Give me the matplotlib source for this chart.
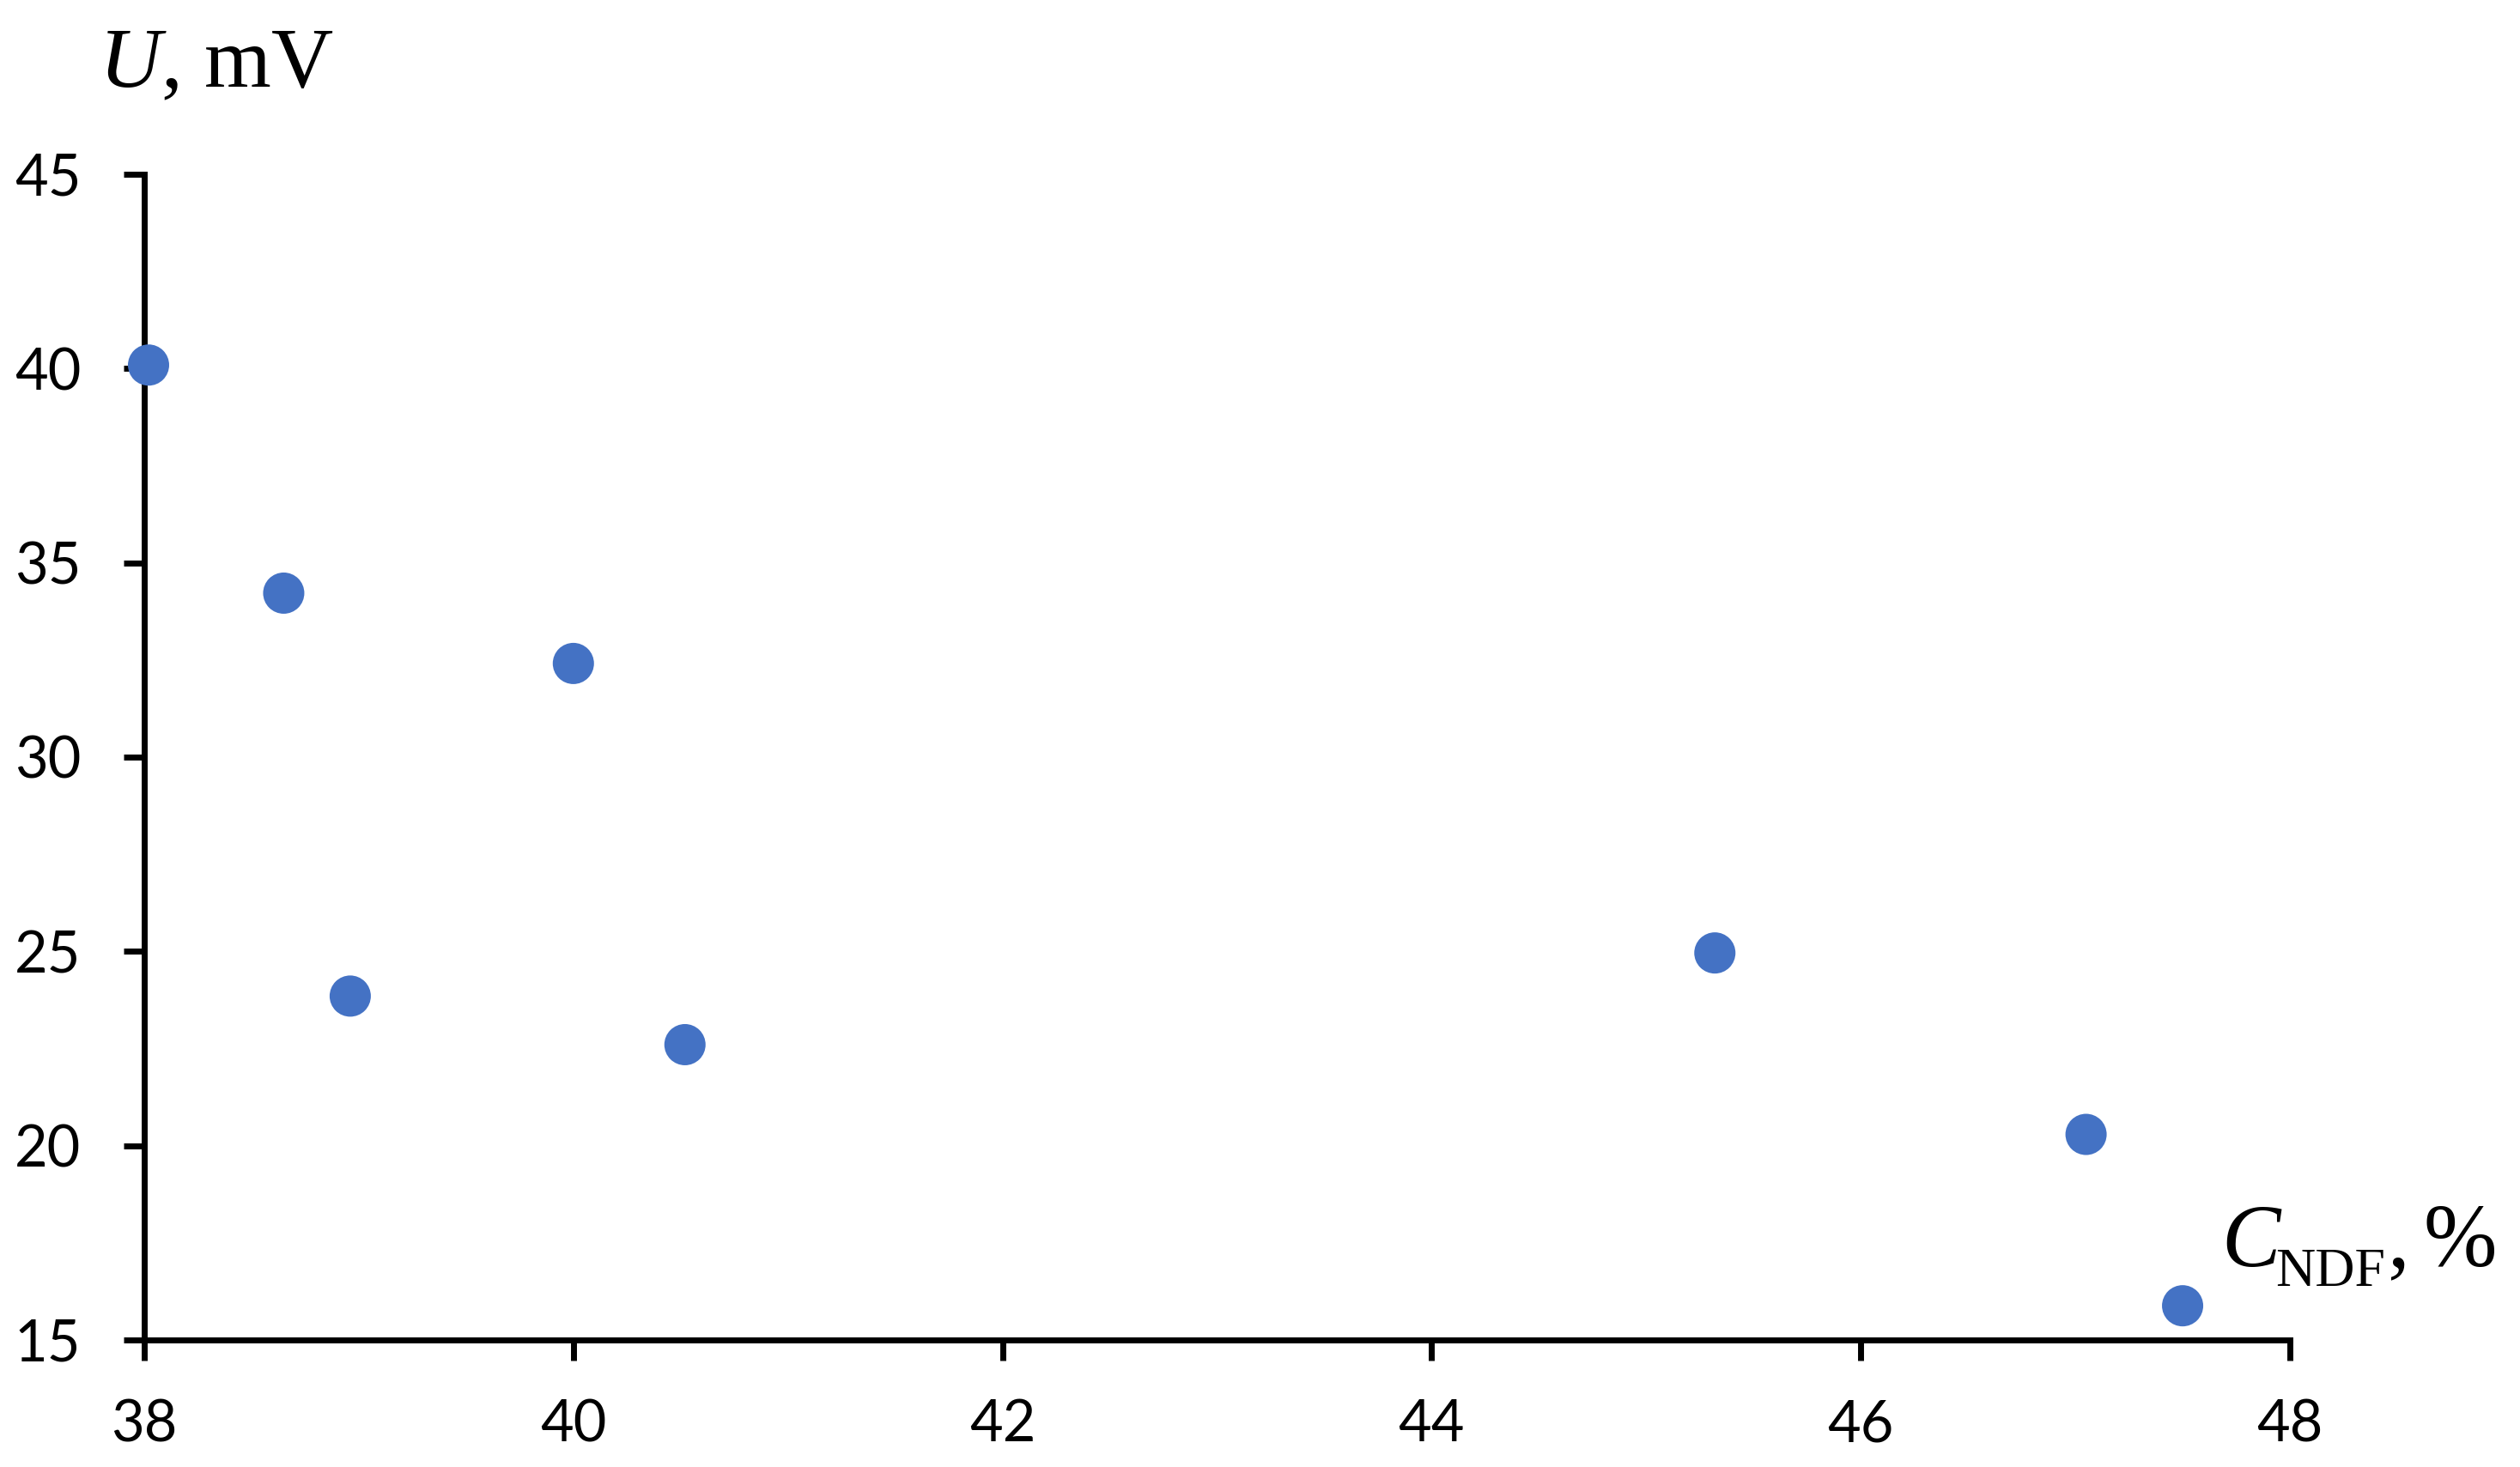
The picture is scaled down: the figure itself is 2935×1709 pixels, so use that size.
import matplotlib
matplotlib.use('Agg')
import matplotlib.pyplot as plt

# fibre content vs potential
c_ndf = [38.02, 38.65, 38.96, 40.00, 40.52, 45.32, 47.05, 47.50]
u_mv = [40.09, 34.22, 23.85, 32.41, 22.60, 24.96, 20.29, 15.88]

x_ticks = [38, 40, 42, 44, 46, 48]
y_ticks = [15, 20, 25, 30, 35, 40, 45]

plt.rcParams['mathtext.fontset'] = 'custom'
plt.rcParams['mathtext.rm'] = 'Liberation Serif'
plt.rcParams['mathtext.it'] = 'Liberation Serif:italic'

W, H = 2935, 1709
fig = plt.figure(figsize=(W / 100, H / 100), dpi=100)
ax = fig.add_axes([168 / W, 1 - 1561 / H, (2667 - 168) / W, (1561 - 203) / H])

ax.scatter(c_ndf, u_mv, s=1195, color='#4472C4', edgecolors='none', clip_on=False, zorder=3)

ax.set_xlim(38, 48)
ax.set_ylim(15, 45)
ax.set_xticks(x_ticks)
ax.set_yticks(y_ticks)

for side in ['top', 'right']:
    ax.spines[side].set_visible(False)
for side in ['left', 'bottom']:
    ax.spines[side].set_linewidth(5)

ax.tick_params(axis='both', direction='out', length=17, width=5, labelsize=48)
ax.tick_params(axis='x', pad=32)
ax.tick_params(axis='y', pad=36)
for lbl in ax.get_xticklabels() + ax.get_yticklabels():
    lbl.set_family(['Lato', 'DejaVu Sans'])

serif = 'Liberation Serif'
fig.text(115 / W, 1 - 101 / H, r'$U$, mV', fontsize=72,
         family=serif, ha='left', va='baseline')

# x axis label: C with subscript NDF, then ", %"
fig.text(2587 / W, 1 - 1475 / H, 'C', fontsize=74, family=serif, style='italic',
         ha='left', va='baseline')
fig.text(2650 / W, 1 - 1498 / H, 'NDF', fontsize=46, family=serif,
         ha='left', va='baseline')
fig.text(2780 / W, 1 - 1475 / H, ',', fontsize=74, family=serif,
         ha='left', va='baseline')
fig.text(2908 / W, 1 - 1475 / H, '%', fontsize=74, family=serif,
         ha='right', va='baseline')

fig.savefig('out.png', dpi=100)
